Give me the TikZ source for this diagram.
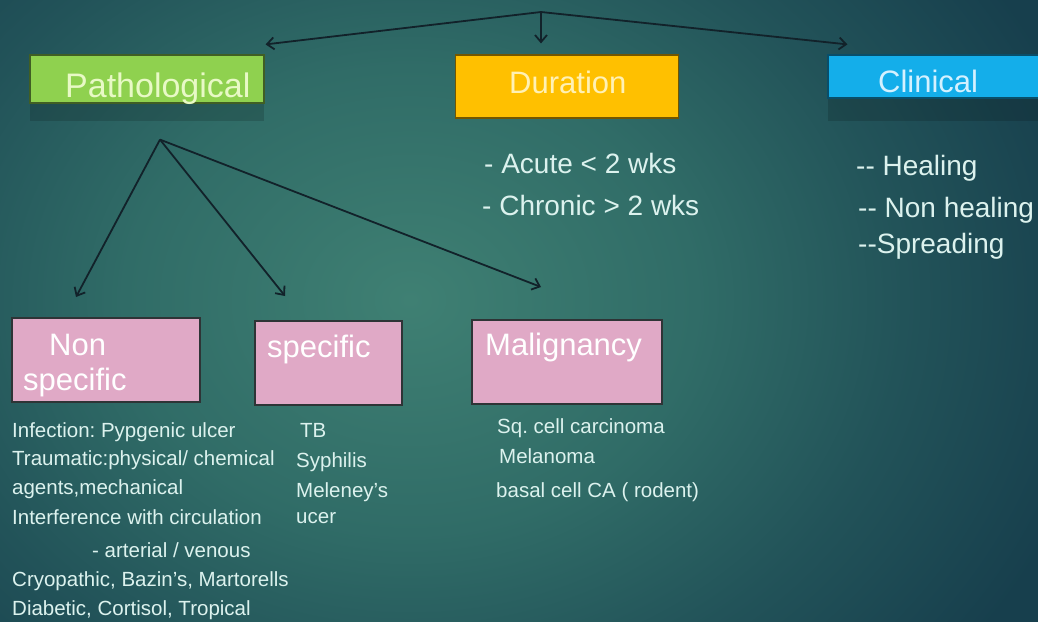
\documentclass[tikz,border=0pt]{standalone}
\usepackage{fontspec}
\setmainfont{Liberation Sans}
\usetikzlibrary{arrows.meta,positioning}

\definecolor{bgin}{HTML}{3F8073}
\definecolor{bgmid}{HTML}{306C67}
\definecolor{bgdark}{HTML}{225359}
\definecolor{bgout}{HTML}{173F4D}
\definecolor{arrowc}{HTML}{12222A}
\definecolor{pathofill}{HTML}{8FD14F}
\definecolor{pathotext}{HTML}{E8F9C6}
\definecolor{durfill}{HTML}{FFC000}
\definecolor{durtext}{HTML}{FFF1B5}
\definecolor{clinfill}{HTML}{14AEEA}
\definecolor{clintext}{HTML}{D4F1FF}
\definecolor{pinkfill}{HTML}{E0A9C6}
\definecolor{pinkedge}{HTML}{2E3436}
\definecolor{bodytext}{HTML}{DCF2EE}

\pgfdeclareradialshading{slidebg}{\pgfpoint{0bp}{0bp}}{color(0bp)=(bgin); color(11bp)=(bgmid); color(19bp)=(bgdark); color(27bp)=(bgout); color(50bp)=(bgout)}

\newcommand{\fsz}[1]{\fontsize{#1}{#1}\selectfont}

\tikzset{
  arr/.style={draw=arrowc, line width=1.8pt, -{Straight Barb[length=7pt,width=12pt]}},
  topbox/.style={draw=#1!45!black, fill=#1, line width=1.2pt},
  pinkbox/.style={draw=pinkedge, fill=pinkfill, line width=2pt, minimum height=84pt},
  boxlab/.style={anchor=base west, font=\fsz{31}},
  body/.style={anchor=base west, text=bodytext, font=\fsz{20.5}},
  sidetxt/.style={anchor=base west, text=bodytext, font=\fsz{28}}
}

\begin{document}
\frenchspacing
\begin{tikzpicture}[x=1pt,y=-1pt,every node/.style={inner sep=0pt}]
  \useasboundingbox (0,0) rectangle (1038,621);
  % background
  \begin{scope}
    \clip (0,0) rectangle (1038,621);
    \fill[bgout] (0,0) rectangle (1038,621);
    \shade[shading=slidebg] (-240,-230) rectangle (1060,830);
  \end{scope}

  % top row
  \fill[black,opacity=.15] (30,103) rectangle (264,121);
  \fill[black,opacity=.15] (828,98) rectangle (1038,121);
  \node[topbox=pathofill, minimum width=234pt, minimum height=48pt] (patho) at (147,79) {};
  \node[topbox=durfill, minimum width=223pt, minimum height=63pt] (dur) at (567,86.5) {};
  \node[topbox=clinfill, minimum width=222pt, minimum height=43pt] (clin) at (939,76.5) {};
  \node[anchor=base west, font=\fsz{34}, text=pathotext] (patholab) at (65,97) {Pathological};
  \node[boxlab, text=durtext] (durlab) at (509,93) {Duration};
  \node[boxlab, text=clintext] (clinlab) at (878,92) {Clinical};

  % arrows from the top
  \coordinate (top) at (541,12);
  \draw[arr] (top) -- ([xshift=1pt,yshift=10pt]patho.north east);
  \draw[arr] (top) -- ([xshift=-26pt,yshift=11pt]dur.north);
  \draw[arr] (top) -- ([xshift=20pt,yshift=10pt]clin.north west);

  % duration / clinical lists
  \node[sidetxt] (acute) at (484,173) {- Acute < 2 wks};
  \node[sidetxt] (chronic) at (482,215) {- Chronic > 2 wks};
  \node[sidetxt] (heal) at (856,175) {-{}- Healing};
  \node[sidetxt] (nonheal) at (858,217) {-{}- Non healing};
  \node[sidetxt] (spread) at (858,253) {-{}-Spreading};

  % second row
  \node[pinkbox, minimum width=188pt] (nonspec) at (106,360) {};
  \node[pinkbox, minimum width=147pt] (spec) at (328.5,363) {};
  \node[pinkbox, minimum width=190pt] (malig) at (567,362) {};
  \node[boxlab, text=white] (nonlab) at (49,355) {Non};
  \node[boxlab, text=white] (nonlabb) at (23,390) {specific};
  \node[boxlab, text=white] (speclab) at (267,357) {specific};
  \node[boxlab, text=white] (maliglab) at (485,355) {Malignancy};

  \coordinate (fork) at ([xshift=13pt,yshift=-36pt]patho.south);
  \draw[arr] (fork) -- ([xshift=-30pt,yshift=20pt]nonspec.north);
  \draw[arr] (fork) -- ([xshift=-43.5pt,yshift=24pt]spec.north);
  \draw[arr] (fork) -- ([xshift=-26pt,yshift=32pt]malig.north);

  % lists under the boxes
  \foreach \x/\y/\t [count=\i] in {12/437/{Infection: Pypgenic ulcer},
      12/465/{Traumatic:physical/ chemical}, 12/494/{agents,mechanical},
      12/524/{Interference with circulation}, 92/557/{- arterial / venous},
      12/586/{Cryopathic, Bazin’s, Martorells}, 12/615/{Diabetic, Cortisol, Tropical}}
    \node[body] (ns\i) at (\x,\y) {\t};
  \foreach \x/\y/\t [count=\i] in {300/437/TB, 296/467/Syphilis,
      296/497/{Meleney’s}, 296/523/ucer}
    \node[body] (sp\i) at (\x,\y) {\t};
  \foreach \x/\y/\t [count=\i] in {497/433/{Sq. cell carcinoma},
      499/463/Melanoma, 496/497/{basal cell CA ( rodent)}}
    \node[body] (mg\i) at (\x,\y) {\t};
\end{tikzpicture}
\end{document}
